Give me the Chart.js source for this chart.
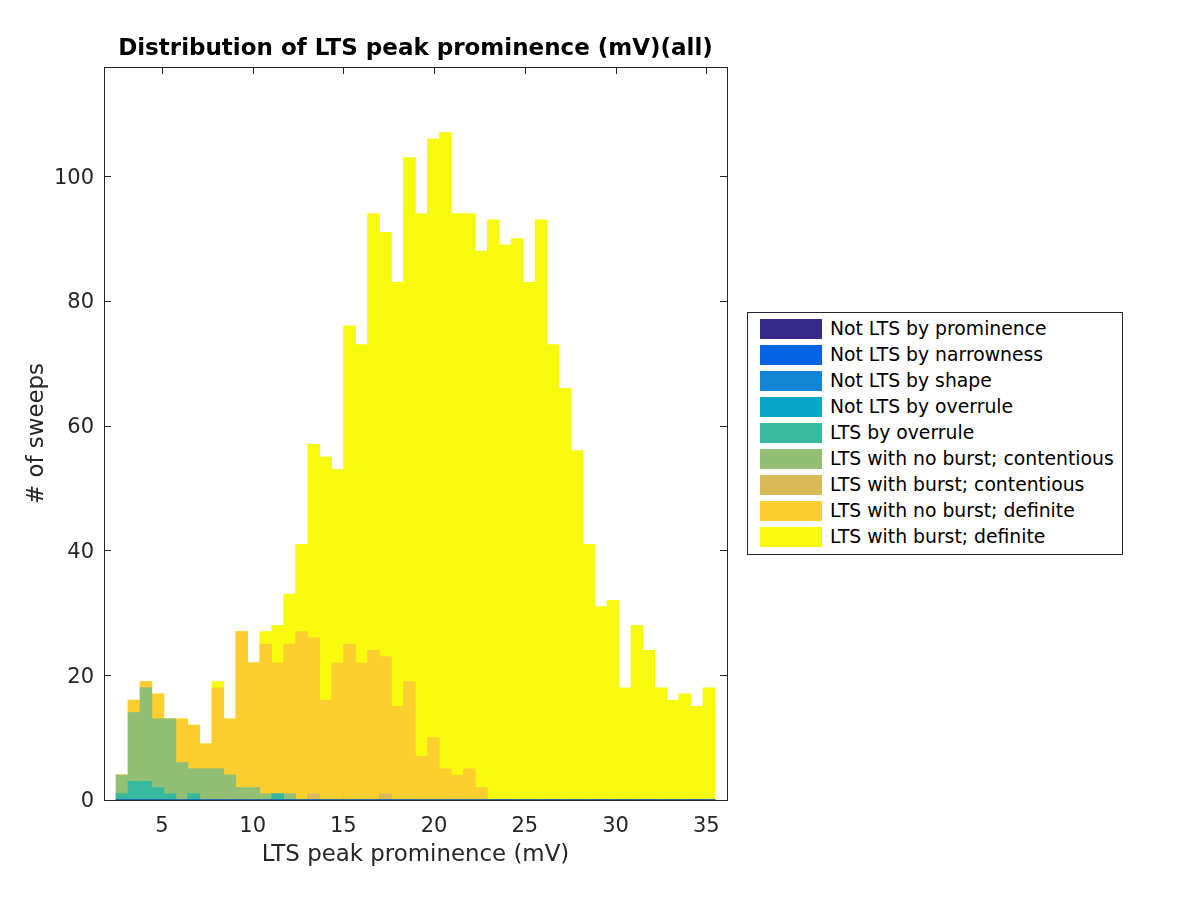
<!DOCTYPE html>
<html><head><meta charset="utf-8">
<script src="https://cdn.jsdelivr.net/npm/chart.js@4.4.0/dist/chart.umd.min.js"></script>
<style>
html,body{margin:0;padding:0;background:#fff;}
#wrap{position:relative;width:1200px;height:900px;}
canvas{position:absolute;left:0;top:0;}
#legend{position:absolute;left:747px;top:312px;width:376px;height:243px;border:1px solid #262626;background:#fff;font-family:"DejaVu Sans";font-size:18.8px;color:#000;box-sizing:border-box;}
.item{position:absolute;left:12px;height:20px;}
.sw{position:absolute;left:0;top:0;width:62px;height:20px;}
.lb{position:absolute;left:70px;top:0;white-space:nowrap;line-height:20px;}
</style></head>
<body>
<div id="wrap"><canvas id="c" width="1200" height="900"></canvas><div id="legend"></div></div>
<script>
// Bin centers (mV), bin width ~0.66 mV
const binCenters = [2.80, 3.46, 4.12, 4.78, 5.44, 6.10, 6.76, 7.42, 8.08, 8.74,
  9.40, 10.06, 10.72, 11.38, 12.04, 12.70, 13.36, 14.02, 14.68, 15.34,
  16.00, 16.66, 17.32, 17.98, 18.64, 19.30, 19.96, 20.62, 21.28, 21.94,
  22.60, 23.26, 23.92, 24.58, 25.24, 25.90, 26.56, 27.22, 27.88, 28.54,
  29.20, 29.86, 30.52, 31.18, 31.84, 32.50, 33.16, 33.82, 34.48, 35.14];

const notLtsProminence = [0,0,0,0,0,0,0,0,0,0, 0,0,0,0,0,0,0,0,0,0, 0,0,0,0,0,0,0,0,0,0, 0,0,0,0,0,0,0,0,0,0, 0,0,0,0,0,0,0,0,0,0];
const notLtsNarrowness = [0,0,0,0,0,0,0,0,0,0, 0,0,0,0,0,0,0,0,0,0, 0,0,0,0,0,0,0,0,0,0, 0,0,0,0,0,0,0,0,0,0, 0,0,0,0,0,0,0,0,0,0];
const notLtsShape = [0,0,0,0,0,0,0,0,0,0, 0,0,0,0,0,0,0,0,0,0, 0,0,0,0,0,0,0,0,0,0, 0,0,0,0,0,0,0,0,0,0, 0,0,0,0,0,0,0,0,0,0];
const notLtsOverrule = [0,0,0,0,0,0,0,0,0,0, 0,0,0,0,0,0,0,0,0,0, 0,0,0,0,0,0,0,0,0,0, 0,0,0,0,0,0,0,0,0,0, 0,0,0,0,0,0,0,0,0,0];
const ltsOverrule = [1,3,3,2,1,0,1,0,0,0, 0,0,0,1,0,0,0,0,0,0, 0,0,0,0,0,0,0,0,0,0, 0,0,0,0,0,0,0,0,0,0, 0,0,0,0,0,0,0,0,0,0];
const noBurstContentious = [3,11,15,11,12,6,4,5,5,4, 2,2,1,0,1,0,0,0,0,0, 0,0,0,0,0,0,0,0,0,0, 0,0,0,0,0,0,0,0,0,0, 0,0,0,0,0,0,0,0,0,0];
const burstContentious = [0,0,0,0,0,0,0,0,0,0, 0,0,0,0,0,0,1,0,0,0, 0,0,1,0,0,0,0,0,0,0, 0,0,0,0,0,0,0,0,0,0, 0,0,0,0,0,0,0,0,0,0];
const noBurstDefinite = [0,2,1,4,0,7,7,4,13,9, 25,20,24,21,24,27,25,16,22,25, 22,24,22,15,19,7,10,5,4,5, 2,0,0,0,0,0,0,0,0,0, 0,0,0,0,0,0,0,0,0,0];
const burstDefinite = [0,0,0,0,0,0,0,0,1,0, 0,0,2,6,8,14,31,39,31,51, 51,70,68,68,84,87,96,102,90,89, 86,93,89,90,83,93,73,66,56,41, 31,32,18,28,24,18,16,17,15,18];

const seriesNames = ['Not LTS by prominence','Not LTS by narrowness','Not LTS by shape','Not LTS by overrule',
  'LTS by overrule','LTS with no burst; contentious','LTS with burst; contentious','LTS with no burst; definite','LTS with burst; definite'];
const seriesValues = [notLtsProminence, notLtsNarrowness, notLtsShape, notLtsOverrule, ltsOverrule,
  noBurstContentious, burstContentious, noBurstDefinite, burstDefinite];
const seriesColors = ['#352a87','#0363e1','#1485d4','#06a7c6','#38b99e','#92bf73','#d9ba56','#fcce2e','#f8fa0d'];
const xTickStep = 5, yTickStep = 20;

const datasets = seriesNames.map((n, i) => ({
  label: n,
  data: seriesValues[i].map((v, j) => ({x: binCenters[j], y: v})),
  backgroundColor: seriesColors[i],
  borderWidth: 0,
  barPercentage: 1.0,
  categoryPercentage: 1.0
}));

const INK = '#262626';
const frame = {
  id: 'frame',
  beforeDatasetsDraw(chart) {
    const {ctx, chartArea: a, scales: {x, y}} = chart;
    ctx.save(); ctx.strokeStyle = INK; ctx.lineWidth = 1; ctx.beginPath();
    x.ticks.forEach(t => {
      const px = Math.round(x.getPixelForValue(t.value)) + 0.5;
      ctx.moveTo(px, a.bottom); ctx.lineTo(px, a.bottom - 7);
      ctx.moveTo(px, a.top); ctx.lineTo(px, a.top + 7);
    });
    y.ticks.forEach(t => {
      const py = Math.round(y.getPixelForValue(t.value)) + 0.5;
      ctx.moveTo(a.left, py); ctx.lineTo(a.left + 7, py);
      ctx.moveTo(a.right, py); ctx.lineTo(a.right - 7, py);
    });
    ctx.stroke(); ctx.restore();
  },
  afterDatasetsDraw(chart) {
    const {ctx, chartArea: a} = chart;
    ctx.save(); ctx.strokeStyle = INK; ctx.lineWidth = 1;
    ctx.strokeRect(Math.round(a.left) + 0.5, Math.round(a.top) + 0.5, Math.round(a.width), Math.round(a.height));
    ctx.restore();
  }
};

new Chart(document.getElementById('c'), {
  type: 'bar',
  data: {datasets},
  options: {
    responsive: false,
    animation: false,
    layout: {padding: {left: 0, right: 473, top: 0, bottom: 0}},
    plugins: {
      legend: {display: false},
      tooltip: {enabled: false},
      title: {
        display: true, fullSize: false,
        text: 'Distribution of LTS peak prominence (mV)(all)',
        color: '#000',
        font: {family: 'DejaVu Sans', size: 23, weight: 'bold', lineHeight: 1.2},
        padding: {top: 35, bottom: 4.4}
      }
    },
    scales: {
      x: {
        type: 'linear', stacked: true, min: 1.81, max: 36.14, offset: false,
        grid: {display: false, drawTicks: false},
        border: {display: false},
        ticks: {stepSize: xTickStep, includeBounds: false, color: INK, padding: 14,
          font: {family: 'DejaVu Sans', size: 21}, maxRotation: 0},
        title: {display: true, text: 'LTS peak prominence (mV)', color: INK,
          font: {family: 'DejaVu Sans', size: 22.9, lineHeight: 1.2}, padding: {top: 0, bottom: 31}},
        afterFit(s) { s.height = 100; }
      },
      y: {
        type: 'linear', stacked: true, min: 0, max: 117.5,
        grid: {display: false, drawTicks: false},
        border: {display: false},
        ticks: {stepSize: yTickStep, includeBounds: false, color: INK, padding: 10, labelOffset: 2,
          font: {family: 'DejaVu Sans', size: 21}},
        title: {display: true, text: '# of sweeps', color: INK,
          font: {family: 'DejaVu Sans', size: 22.9, lineHeight: 1.2}, padding: {top: 23, bottom: 0}},
        afterFit(s) { s.width = 104; }
      }
    }
  },
  plugins: [frame]
});

const leg = document.getElementById('legend');
seriesNames.forEach((n, i) => {
  const it = document.createElement('div');
  it.className = 'item'; it.style.top = (6 + 26 * i) + 'px';
  const sw = document.createElement('div'); sw.className = 'sw'; sw.style.background = seriesColors[i];
  const lb = document.createElement('div'); lb.className = 'lb'; lb.textContent = n;
  it.appendChild(sw); it.appendChild(lb); leg.appendChild(it);
});
</script>
</body></html>
